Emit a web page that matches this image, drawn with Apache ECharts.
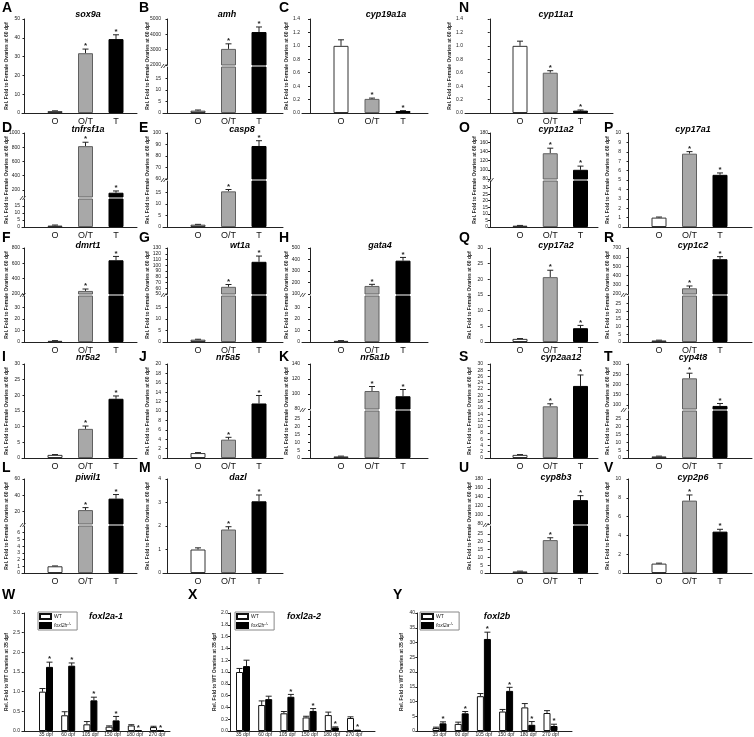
<!DOCTYPE html>
<html><head><meta charset="utf-8">
<script src="https://cdn.jsdelivr.net/npm/echarts@6/dist/echarts.min.js"></script>
<style>html,body{margin:0;padding:0;background:#fff}#c{width:754px;height:737px}</style>
</head><body><div id="c"></div>
<script>
const FONT = '"Liberation Sans", Arial, sans-serif';
const groups = ['O', 'O/T', 'T'];
const ages = ['35 dpf', '60 dpf', '105 dpf', '150 dpf', '180 dpf', '270 dpf'];
const yNameTop = 'Rel. Fold to Female Ovaries at 60 dpf';
const yNameBottom = 'Rel. Fold to WT Ovaries at 35 dpf';

// ---- A sox9a
const sox9a = [1.0, 31.8, 39.3];
const sox9aSE = [0.15, 2.2, 2.3];
const sox9aSig = [0, 1, 1];
const sox9aTicks = [0, 10, 20, 30, 40, 50];
// ---- B amh
const amh = [1.0, 3050, 4150];
const amhSE = [0.3, 330, 330];
const amhSig = [0, 1, 1];
const amhTicksLow = [0, 5, 10, 15];
const amhTicksHigh = [2000, 3000, 4000, 5000];
// ---- C cyp19a1a
const cyp19a1a = [1.0, 0.21, 0.03];
const cyp19a1aSE = [0.09, 0.012, 0.005];
const cyp19a1aSig = [0, 1, 1];
const cyp19a1aTicks = [0, 0.2, 0.4, 0.6, 0.8, 1.0, 1.2, 1.4];
// ---- N cyp11a1
const cyp11a1 = [1.0, 0.60, 0.035];
const cyp11a1SE = [0.07, 0.03, 0.01];
const cyp11a1Sig = [0, 1, 1];
const cyp11a1Ticks = [0, 0.2, 0.4, 0.6, 0.8, 1.0, 1.2, 1.4];
// ---- D tnfrsf1a
const tnfrsf1a = [1.0, 815, 160];
const tnfrsf1aSE = [0.4, 55, 25];
const tnfrsf1aSig = [0, 1, 1];
const tnfrsf1aTicksLow = [0, 5, 10, 15];
const tnfrsf1aTicksHigh = [200, 400, 600, 800, 1000];
// ---- E casp8
const casp8 = [1.0, 15.5, 88.7];
const casp8SE = [0.15, 0.8, 4.6];
const casp8Sig = [0, 1, 1];
const casp8TicksLow = [0, 5, 10, 15];
const casp8TicksHigh = [60, 70, 80, 90, 100];
// ---- O cyp11a2
const cyp11a2 = [1.0, 136, 100];
const cyp11a2SE = [0.2, 11, 8];
const cyp11a2Sig = [0, 1, 1];
const cyp11a2TicksLow = [0, 5, 10, 15, 20, 25, 30];
const cyp11a2TicksHigh = [80, 100, 120, 140, 160, 180];
// ---- P cyp17a1
const cyp17a1 = [1.0, 7.8, 5.55];
const cyp17a1SE = [0.06, 0.22, 0.2];
const cyp17a1Sig = [0, 1, 1];
const cyp17a1Ticks = [0, 1, 2, 3, 4, 5, 6, 7, 8, 9, 10];
// ---- F dmrt1
const dmrt1 = [1.0, 240, 640];
const dmrt1SE = [0.2, 25, 50];
const dmrt1Sig = [0, 1, 1];
const dmrt1TicksLow = [0, 10, 20, 30];
const dmrt1TicksHigh = [200, 400, 600, 800];
// ---- G wt1a
const wt1a = [1.0, 62.5, 106];
const wt1aSE = [0.2, 4, 10];
const wt1aSig = [0, 1, 1];
const wt1aTicksLow = [0, 5, 10, 15];
const wt1aTicksHigh = [50, 60, 70, 80, 90, 100, 110, 120, 130];
// ---- H gata4
const gata4 = [1.0, 170, 390];
const gata4SE = [0.2, 14, 28];
const gata4Sig = [0, 1, 1];
const gata4TicksLow = [0, 10, 20, 30];
const gata4TicksHigh = [100, 200, 300, 400, 500];
// ---- Q cyp17a2
const cyp17a2 = [1.0, 20.7, 4.4];
const cyp17a2SE = [0.1, 2.2, 0.9];
const cyp17a2Sig = [0, 1, 1];
const cyp17a2Ticks = [0, 5, 10, 15, 20, 25, 30];
// ---- R cyp1c2
const cyp1c2 = [1.0, 262, 578];
const cyp1c2SE = [0.2, 25, 28];
const cyp1c2Sig = [0, 1, 1];
const cyp1c2TicksLow = [0, 5, 10, 15, 20, 25];
const cyp1c2TicksHigh = [200, 300, 400, 500, 600, 700];
// ---- I nr5a2
const nr5a2 = [1.0, 9.3, 18.9];
const nr5a2SE = [0.1, 0.9, 0.9];
const nr5a2Sig = [0, 1, 1];
const nr5a2Ticks = [0, 5, 10, 15, 20, 25, 30];
// ---- J nr5a5
const nr5a5 = [1.05, 3.9, 11.6];
const nr5a5SE = [0.1, 0.5, 1.7];
const nr5a5Sig = [0, 1, 1];
const nr5a5Ticks = [0, 2, 4, 6, 8, 10, 12, 14, 16, 18, 20];
// ---- K nr5a1b
const nr5a1b = [1.0, 104, 97];
const nr5a1bSE = [0.2, 6, 9];
const nr5a1bSig = [0, 1, 1];
const nr5a1bTicksLow = [0, 5, 10, 15, 20, 25];
const nr5a1bTicksHigh = [80, 100, 120, 140];
// ---- S cyp2aa12
const cyp2aa12 = [1.0, 16.5, 23.0];
const cyp2aa12SE = [0.1, 0.8, 3.5];
const cyp2aa12Sig = [0, 1, 1];
const cyp2aa12Ticks = [0, 2, 4, 6, 8, 10, 12, 14, 16, 18, 20, 22, 24, 26, 28, 30];
// ---- T cyp4t8
const cyp4t8 = [1.0, 230, 95];
const cyp4t8SE = [0.2, 25, 12];
const cyp4t8Sig = [0, 1, 1];
const cyp4t8TicksLow = [0, 5, 10, 15, 20, 25];
const cyp4t8TicksHigh = [100, 150, 200, 250, 300];
// ---- L piwil1
const piwil1 = [1.0, 22, 36];
const piwil1SE = [0.05, 3, 5];
const piwil1Sig = [0, 1, 1];
const piwil1TicksLow = [0, 1, 2, 3, 4, 5, 6];
const piwil1TicksHigh = [20, 40, 60];
// ---- M dazl
const dazl = [1.0, 1.85, 3.05];
const dazlSE = [0.07, 0.12, 0.27];
const dazlSig = [0, 1, 1];
const dazlTicks = [0, 1, 2, 3, 4];
// ---- U cyp8b3
const cyp8b3 = [1.0, 21, 133];
const cyp8b3SE = [0.2, 1.5, 10];
const cyp8b3Sig = [0, 1, 1];
const cyp8b3TicksLow = [0, 5, 10, 15, 20, 25];
const cyp8b3TicksHigh = [80, 100, 120, 140, 160, 180];
// ---- V cyp2p6
const cyp2p6 = [1.0, 7.7, 4.4];
const cyp2p6SE = [0.05, 0.6, 0.25];
const cyp2p6Sig = [0, 1, 1];
const cyp2p6Ticks = [0, 2, 4, 6, 8, 10];
// ---- W foxl2a-1
const foxl2a1WT = [1.0, 0.40, 0.17, 0.11, 0.14, 0.10];
const foxl2a1WTSE = [0.08, 0.09, 0.07, 0.02, 0.02, 0.02];
const foxl2a1KO = [1.63, 1.66, 0.78, 0.27, 0.005, 0.005];
const foxl2a1KOSE = [0.12, 0.07, 0.08, 0.10, 0.003, 0.003];
const foxl2a1Sig = [1, 1, 1, 1, 1, 1];
const foxl2a1Ticks = [0, 0.5, 1.0, 1.5, 2.0, 2.5, 3.0];
// ---- X foxl2a-2
const foxl2a2WT = [1.0, 0.44, 0.30, 0.23, 0.27, 0.22];
const foxl2a2WTSE = [0.06, 0.07, 0.03, 0.02, 0.05, 0.02];
const foxl2a2KO = [1.10, 0.54, 0.58, 0.34, 0.06, 0.01];
const foxl2a2KOSE = [0.10, 0.05, 0.04, 0.04, 0.01, 0.005];
const foxl2a2Sig = [0, 0, 1, 1, 1, 1];
const foxl2a2Ticks = [0, 0.2, 0.4, 0.6, 0.8, 1.0, 1.2, 1.4, 1.6, 1.8, 2.0];
// ---- Y foxl2b
const foxl2bWT = [1.0, 2.4, 11.8, 6.6, 8.0, 6.1];
const foxl2bWTSE = [0.3, 0.6, 0.9, 0.7, 1.3, 0.8];
const foxl2bKO = [2.6, 6.0, 31.2, 13.6, 2.1, 1.7];
const foxl2bKOSE = [0.5, 0.6, 2.3, 1.2, 1.1, 0.6];
const foxl2bSig = [1, 1, 1, 1, 1, 1];
const foxl2bTicks = [0, 5, 10, 15, 20, 25, 30, 35, 40];

// ================= layout (positions / styles) =================
const cols = [
  {ax: 22, right: 137, c1: 55, s: 30.5, lx: 2, tx: 88},
  {ax: 163, right: 283, c1: 198, s: 30.5, lx: 139, tx: 234},
  {ax: 302, right: 428, c1: 341, s: 31, lx: 279, tx: 380},
  {ax: 485, right: 598, c1: 520, s: 30.25, lx: 459, tx: 556},
  {ax: 623, right: 752, c1: 659, s: 30.5, lx: 604, tx: 693}
];
const rows = [
  {top: 19, bottom: 113, ty: 15, ly: 8},
  {top: 133, bottom: 227, ty: 130, ly: 128},
  {top: 248, bottom: 342, ty: 246, ly: 238},
  {top: 364, bottom: 458, ty: 358, ly: 357},
  {top: 479, bottom: 573, ty: 478, ly: 468}
];
const panels = [
  {id: 'A', gene: 'sox9a', r: 0, c: 0, v: sox9a, e: sox9aSE, s: sox9aSig, t: sox9aTicks, max: 50},
  {id: 'B', gene: 'amh', r: 0, c: 1, v: amh, e: amhSE, s: amhSig, tLow: amhTicksLow, tHigh: amhTicksHigh, low: 20, high: [2000, 5000], split: 46, tx: 227},
  {id: 'C', gene: 'cyp19a1a', r: 0, c: 2, v: cyp19a1a, e: cyp19a1aSE, s: cyp19a1aSig, t: cyp19a1aTicks, max: 1.4, dec: 1, tx: 386},
  {id: 'N', gene: 'cyp11a1', r: 0, c: 3, v: cyp11a1, e: cyp11a1SE, s: cyp11a1Sig, t: cyp11a1Ticks, max: 1.4, dec: 1, ax: 465, right: 613},
  {id: 'D', gene: 'tnfrsf1a', r: 1, c: 0, v: tnfrsf1a, e: tnfrsf1aSE, s: tnfrsf1aSig, tLow: tnfrsf1aTicksLow, tHigh: tnfrsf1aTicksHigh, low: 20, high: [100, 1000], split: 64},
  {id: 'E', gene: 'casp8', r: 1, c: 1, v: casp8, e: casp8SE, s: casp8Sig, tLow: casp8TicksLow, tHigh: casp8TicksHigh, low: 20, high: [60, 100], split: 46, tx: 242},
  {id: 'O', gene: 'cyp11a2', r: 1, c: 3, v: cyp11a2, e: cyp11a2SE, s: cyp11a2Sig, tLow: cyp11a2TicksLow, tHigh: cyp11a2TicksHigh, low: 35, high: [80, 180], split: 46, ax: 490},
  {id: 'P', gene: 'cyp17a1', r: 1, c: 4, v: cyp17a1, e: cyp17a1SE, s: cyp17a1Sig, t: cyp17a1Ticks, max: 10},
  {id: 'F', gene: 'dmrt1', r: 2, c: 0, v: dmrt1, e: dmrt1SE, s: dmrt1Sig, tLow: dmrt1TicksLow, tHigh: dmrt1TicksHigh, low: 40, high: [200, 800], split: 46},
  {id: 'G', gene: 'wt1a', r: 2, c: 1, v: wt1a, e: wt1aSE, s: wt1aSig, tLow: wt1aTicksLow, tHigh: wt1aTicksHigh, low: 20, high: [50, 130], split: 46, tx: 240},
  {id: 'H', gene: 'gata4', r: 2, c: 2, v: gata4, e: gata4SE, s: gata4Sig, tLow: gata4TicksLow, tHigh: gata4TicksHigh, low: 40, high: [100, 500], split: 46},
  {id: 'Q', gene: 'cyp17a2', r: 2, c: 3, v: cyp17a2, e: cyp17a2SE, s: cyp17a2Sig, t: cyp17a2Ticks, max: 30},
  {id: 'R', gene: 'cyp1c2', r: 2, c: 4, v: cyp1c2, e: cyp1c2SE, s: cyp1c2Sig, tLow: cyp1c2TicksLow, tHigh: cyp1c2TicksHigh, low: 30, high: [200, 700], split: 46},
  {id: 'I', gene: 'nr5a2', r: 3, c: 0, v: nr5a2, e: nr5a2SE, s: nr5a2Sig, t: nr5a2Ticks, max: 30},
  {id: 'J', gene: 'nr5a5', r: 3, c: 1, v: nr5a5, e: nr5a5SE, s: nr5a5Sig, t: nr5a5Ticks, max: 20, tx: 228},
  {id: 'K', gene: 'nr5a1b', r: 3, c: 2, v: nr5a1b, e: nr5a1bSE, s: nr5a1bSig, tLow: nr5a1bTicksLow, tHigh: nr5a1bTicksHigh, low: 30, high: [80, 140], split: 45, tx: 375},
  {id: 'S', gene: 'cyp2aa12', r: 3, c: 3, v: cyp2aa12, e: cyp2aa12SE, s: cyp2aa12Sig, t: cyp2aa12Ticks, max: 30, tx: 561},
  {id: 'T', gene: 'cyp4t8', r: 3, c: 4, v: cyp4t8, e: cyp4t8SE, s: cyp4t8Sig, tLow: cyp4t8TicksLow, tHigh: cyp4t8TicksHigh, low: 30, high: [80, 300], split: 45},
  {id: 'L', gene: 'piwil1', r: 4, c: 0, v: piwil1, e: piwil1SE, s: piwil1Sig, tLow: piwil1TicksLow, tHigh: piwil1TicksHigh, low: 7, high: [5, 60], split: 45},
  {id: 'M', gene: 'dazl', r: 4, c: 1, v: dazl, e: dazlSE, s: dazlSig, t: dazlTicks, max: 4, tx: 238},
  {id: 'U', gene: 'cyp8b3', r: 4, c: 3, v: cyp8b3, e: cyp8b3SE, s: cyp8b3Sig, tLow: cyp8b3TicksLow, tHigh: cyp8b3TicksHigh, low: 30, high: [80, 180], split: 45},
  {id: 'V', gene: 'cyp2p6', r: 4, c: 4, v: cyp2p6, e: cyp2p6SE, s: cyp2p6Sig, t: cyp2p6Ticks, max: 10}
];
const groupRow = {top: 613, bottom: 731, ty: 617, ly: 595};
const groupPanels = [
  {id: 'W', gene: 'foxl2a-1', wt: foxl2a1WT, wtE: foxl2a1WTSE, ko: foxl2a1KO, koE: foxl2a1KOSE, s: foxl2a1Sig, t: foxl2a1Ticks, max: 3, dec: 1,
   ax: 22, right: 170, c1: 46, sp: 22.2, mut: 'foxl2b-/-', legX: 38, tx: 106, lx: 2},
  {id: 'X', gene: 'foxl2a-2', wt: foxl2a2WT, wtE: foxl2a2WTSE, ko: foxl2a2KO, koE: foxl2a2KOSE, s: foxl2a2Sig, t: foxl2a2Ticks, max: 2, dec: 1,
   ax: 230, right: 375, c1: 243, sp: 22.2, mut: 'foxl2b-/-', legX: 235, tx: 304, lx: 188},
  {id: 'Y', gene: 'foxl2b', wt: foxl2bWT, wtE: foxl2bWTSE, ko: foxl2bKO, koE: foxl2bKOSE, s: foxl2bSig, t: foxl2bTicks, max: 40, dec: 0,
   ax: 417, right: 572, c1: 439.5, sp: 22.2, mut: 'foxl2a-/-', legX: 420, tx: 497, lx: 393}
];

const barStyles = [
  {color: '#ffffff', borderColor: '#333', borderWidth: 1},
  {color: '#a8a8a8', borderColor: '#606060', borderWidth: 1},
  {color: '#000000', borderColor: '#000', borderWidth: 1}
];
const INK = '#222';

const grids = [], xAxes = [], yAxes = [], series = [], graphics = [], legends = [];

function addGrid(left, top, width, height) {
  grids.push({left: left, top: top, width: width, height: height, containLabel: false});
  return grids.length - 1;
}
function fmt(dec) { return v => dec ? Number(v).toFixed(dec) : String(v); }

function errRenderer(segMin, segMax, dx) {
  return function (params, api) {
    const x = api.value(0), v = api.value(1), e = api.value(2), sig = api.value(3);
    if (v < segMin || v > segMax) return null;
    const p1 = api.coord([x, v]);
    const p2 = api.coord([x, v + e]);
    const cx = p1[0] + dx;
    const ch = [
      {type: 'line', shape: {x1: cx, y1: p1[1], x2: cx, y2: p2[1]}, style: {stroke: INK, lineWidth: 1}},
      {type: 'line', shape: {x1: cx - 3, y1: p2[1], x2: cx + 3, y2: p2[1]}, style: {stroke: INK, lineWidth: 1}}
    ];
    if (sig) ch.push({type: 'text', style: {text: '*', x: cx, y: p2[1] - 3, align: 'center', verticalAlign: 'middle', font: 'bold 8px ' + FONT, fill: INK}});
    return {type: 'group', children: ch};
  };
}

function frameAxis(left, top, width, height, name) {
  const gi = addGrid(left, top, width, height);
  xAxes.push({gridIndex: gi, type: 'value', show: false, min: 0, max: 1});
  yAxes.push({gridIndex: gi, type: 'value', min: 0, max: 1, name: name, nameLocation: 'middle', nameGap: 13,
    nameTextStyle: {fontSize: 5, fontWeight: 'bold', color: INK, fontFamily: FONT},
    axisLine: {show: false}, axisTick: {show: false}, axisLabel: {show: false}, splitLine: {show: false}});
}

function yAxisDef(gi, min, max, ticks, dec) {
  return {gridIndex: gi, type: 'value', min: min, max: max,
    axisLine: {show: true, lineStyle: {color: INK, width: 1}},
    axisTick: {show: true, length: 2, customValues: ticks, lineStyle: {color: INK}},
    axisLabel: {show: true, customValues: ticks, fontSize: 5, margin: 2, color: INK, fontFamily: FONT, formatter: fmt(dec)},
    splitLine: {show: false}};
}

// ---------- three-bar panels ----------
panels.forEach(p => {
  const col = cols[p.c], row = rows[p.r];
  const ax = p.ax != null ? p.ax : col.ax;
  const right = p.right != null ? p.right : col.right;
  const xMin = 1 - (col.c1 - ax) / col.s;
  const xMax = 3 + (right - (col.c1 + 2 * col.s)) / col.s;
  const width = right - ax;
  const H = row.bottom - row.top;
  frameAxis(ax, row.top, width, H, yNameTop);
  const segs = [];
  if (p.high) {
    segs.push({top: row.top, h: p.split, min: p.high[0], max: p.high[1], ticks: p.tHigh, showX: false, rMin: p.low, rMax: Infinity});
    segs.push({top: row.top + p.split + 2, h: H - p.split - 2, min: 0, max: p.low, ticks: p.tLow, showX: true, rMin: -Infinity, rMax: p.low});
    const by = row.top + p.split + 1;
    graphics.push({type: 'line', shape: {x1: ax - 2, y1: by + 2, x2: ax + 1, y2: by - 2}, style: {stroke: INK, lineWidth: 0.8}});
    graphics.push({type: 'line', shape: {x1: ax + 0.5, y1: by + 2, x2: ax + 3.5, y2: by - 2}, style: {stroke: INK, lineWidth: 0.8}});
  } else {
    segs.push({top: row.top, h: H, min: 0, max: p.max, ticks: p.t, showX: true, rMin: -Infinity, rMax: Infinity});
  }
  segs.forEach(sg => {
    const gi = addGrid(ax, sg.top, width, sg.h);
    xAxes.push({gridIndex: gi, type: 'value', min: xMin, max: xMax, show: true,
      axisLine: {show: sg.showX, onZero: false, lineStyle: {color: INK, width: 1}},
      axisTick: {show: false},
      axisLabel: {show: sg.showX, customValues: [1, 2, 3], formatter: v => groups[v - 1] || '', fontSize: 9, margin: 4, color: '#111', fontFamily: FONT},
      splitLine: {show: false}});
    yAxes.push(yAxisDef(gi, sg.min, sg.max, sg.ticks, p.dec));
    const xi = xAxes.length - 1, yi = yAxes.length - 1;
    series.push({type: 'bar', xAxisIndex: xi, yAxisIndex: yi, barWidth: 15, clip: true, silent: true,
      data: p.v.map((val, i) => ({value: [i + 1, val], itemStyle: barStyles[i]}))});
    series.push({type: 'custom', xAxisIndex: xi, yAxisIndex: yi, clip: false, silent: true,
      renderItem: errRenderer(sg.rMin, sg.rMax, 0),
      data: p.v.map((val, i) => [i + 1, val, p.e[i], p.s[i]])});
  });
  graphics.push({type: 'text', style: {text: p.id, x: col.lx, y: row.ly, font: 'bold 14px ' + FONT, fill: '#000', align: 'left', verticalAlign: 'middle'}});
  graphics.push({type: 'text', style: {text: p.gene, x: p.tx != null ? p.tx : col.tx, y: row.ty, font: 'italic bold 9px ' + FONT, fill: '#000', align: 'center', verticalAlign: 'middle'}});
});

// ---------- grouped panels ----------
groupPanels.forEach(p => {
  const n = ages.length;
  const xMin = 1 - (p.c1 - p.ax) / p.sp;
  const xMax = n + (p.right - (p.c1 + (n - 1) * p.sp)) / p.sp;
  const H = groupRow.bottom - groupRow.top;
  const width = p.right - p.ax;
  frameAxis(p.ax, groupRow.top, width, H, yNameBottom);
  const gi = addGrid(p.ax, groupRow.top, width, H);
  xAxes.push({gridIndex: gi, type: 'value', min: xMin, max: xMax,
    axisLine: {show: true, onZero: false, lineStyle: {color: INK, width: 1}},
    axisTick: {show: false},
    axisLabel: {show: true, customValues: ages.map((a, i) => i + 1), formatter: v => ages[v - 1] || '', fontSize: 5, margin: 1, color: INK, fontFamily: FONT},
    splitLine: {show: false}});
  yAxes.push(yAxisDef(gi, 0, p.max, p.t, p.dec));
  const xi = xAxes.length - 1, yi = yAxes.length - 1;
  series.push({type: 'bar', name: 'WT', xAxisIndex: xi, yAxisIndex: yi, barWidth: 7, barGap: '0%', silent: true,
    itemStyle: {color: '#fff', borderColor: '#111', borderWidth: 1},
    data: p.wt.map((v, i) => [i + 1, v])});
  series.push({type: 'bar', name: p.mut, xAxisIndex: xi, yAxisIndex: yi, barWidth: 7, barGap: '0%', silent: true,
    itemStyle: {color: '#000', borderColor: '#000', borderWidth: 1},
    data: p.ko.map((v, i) => [i + 1, v])});
  series.push({type: 'custom', xAxisIndex: xi, yAxisIndex: yi, clip: false, silent: true,
    renderItem: errRenderer(-Infinity, Infinity, -3.5),
    data: p.wt.map((v, i) => [i + 1, v, p.wtE[i], 0])});
  series.push({type: 'custom', xAxisIndex: xi, yAxisIndex: yi, clip: false, silent: true,
    renderItem: errRenderer(-Infinity, Infinity, 3.5),
    data: p.ko.map((v, i) => [i + 1, v, p.koE[i], p.s[i]])});
  legends.push({data: ['WT', p.mut], left: p.legX, top: groupRow.top - 1, orient: 'vertical',
    itemWidth: 11, itemHeight: 5, itemGap: 2, padding: [1, 6, 1, 1], borderColor: '#888', borderWidth: 1,
    selectedMode: false, icon: 'rect',
    formatter: name => name === 'WT' ? 'WT' : '{i|' + name.replace('-/-', '') + '}{s|-/-}',
    textStyle: {fontSize: 5, color: INK, fontFamily: FONT, padding: [0, 0, 0, -2],
      rich: {i: {fontSize: 5, fontStyle: 'italic', fontFamily: FONT}, s: {fontSize: 4, fontFamily: FONT, padding: [0, 0, 3, 0]}}}});
  graphics.push({type: 'text', style: {text: p.id, x: p.lx, y: groupRow.ly, font: 'bold 14px ' + FONT, fill: '#000', align: 'left', verticalAlign: 'middle'}});
  graphics.push({type: 'text', style: {text: p.gene, x: p.tx, y: groupRow.ty, font: 'italic bold 9px ' + FONT, fill: '#000', align: 'center', verticalAlign: 'middle'}});
});

const chart = echarts.init(document.getElementById('c'), null, {renderer: 'canvas'});
chart.setOption({
  animation: false,
  backgroundColor: '#fff',
  grid: grids, xAxis: xAxes, yAxis: yAxes, series: series, legend: legends,
  graphic: {elements: graphics}
});
</script></body></html>
